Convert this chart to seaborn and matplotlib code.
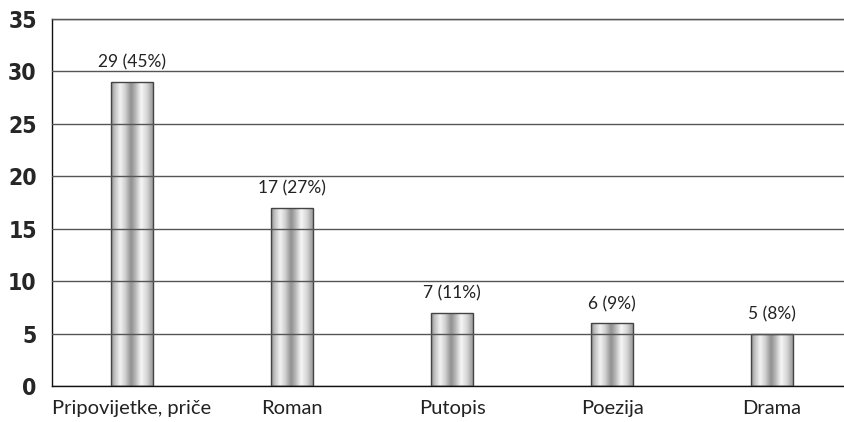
import numpy as np
import pandas as pd
import matplotlib
matplotlib.use("Agg")
import matplotlib.pyplot as plt
from matplotlib.colors import LinearSegmentedColormap
import seaborn as sns

categories = ["Pripovijetke, priče", "Roman", "Putopis", "Poezija", "Drama"]
counts = [29, 17, 7, 6, 5]
percents = [45, 27, 11, 9, 8]
y_ticks = [0, 5, 10, 15, 20, 25, 30, 35]

df = pd.DataFrame({"vrsta": categories, "broj": counts})

sns.set_theme(style="white")
plt.rcParams["font.family"] = ["Lato", "DejaVu Sans"]

fig = plt.figure(figsize=(8.44, 4.22), dpi=100)
ax = fig.add_axes([52 / 844, 1 - 386 / 422, 800 / 844, 367 / 422])

sns.barplot(data=df, x="vrsta", y="broj", ax=ax, width=0.26,
            color="#bbbbbb", edgecolor="#444444", linewidth=1.0, zorder=1)

# cylinder-like shading across each bar
shade = LinearSegmentedColormap.from_list("cyl", [
    (0.00, "#8a8a8a"), (0.08, "#bdbdbd"), (0.22, "#f2f2f2"),
    (0.34, "#d0d0d0"), (0.48, "#8f8f8f"), (0.58, "#b5b5b5"),
    (0.72, "#f7f7f7"), (0.86, "#d5d5d5"), (1.00, "#9a9a9a")])
grad = np.linspace(0, 1, 256).reshape(1, -1)
for p in ax.patches:
    x0, y0 = p.get_x(), p.get_y()
    w, h = p.get_width(), p.get_height()
    im = ax.imshow(grad, cmap=shade, aspect="auto", interpolation="bicubic",
                   extent=[x0, x0 + w, y0, y0 + h], zorder=1)
    im.set_clip_path(p)
    p.set_facecolor("none")
    p.set_zorder(1.5)

for i, (c, pc) in enumerate(zip(counts, percents)):
    ax.annotate(f"{c} ({pc}%)", (i, c), xytext=(0, 8), textcoords="offset points",
                ha="center", va="bottom", fontsize=12.5, color="#222222")

ax.set_xlim(-0.5, len(categories) - 0.5)
ax.set_ylim(0, 35)
ax.set_yticks(y_ticks)
ax.set_yticklabels([str(t) for t in y_ticks], fontsize=16.5, fontweight="bold",
                   fontstretch="condensed", family=["DejaVu Sans"])
ax.set_xticks(range(len(categories)))
ax.set_xticklabels(categories, fontsize=14.5, color="#222222")
ax.set_xticks(np.arange(-0.5, len(categories) + 0.5, 1), minor=True)
ax.tick_params(axis="x", which="major", length=0, pad=10)
ax.tick_params(axis="x", which="minor", length=7, width=1, color="#222222", direction="out")
ax.tick_params(axis="y", length=8, width=1, color="#222222", direction="out", pad=3)
ax.set_xlabel("")
ax.set_ylabel("")

ax.set_axisbelow(False)
ax.yaxis.grid(True, color="#555555", linewidth=1.0)
ax.xaxis.grid(False)

ax.spines["right"].set_visible(False)
ax.spines["top"].set_color("#333333")
ax.spines["left"].set_color("#111111")
ax.spines["bottom"].set_color("#111111")
for s in ["top", "left", "bottom"]:
    ax.spines[s].set_linewidth(1.0)

fig.savefig("out.png", dpi=100)
